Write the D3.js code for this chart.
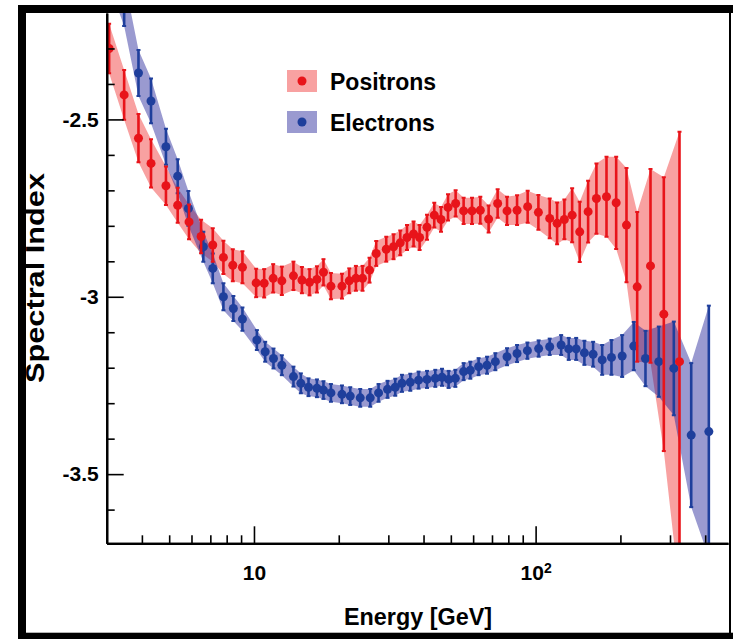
<!DOCTYPE html>
<html>
<head>
<meta charset="utf-8">
<script src="https://cdn.jsdelivr.net/npm/d3@7"></script>
<style>
body { margin: 0; background: #fff; }
svg { display: block; }
text { font-family: "Liberation Sans", Arial, Helvetica, sans-serif; fill: #000; font-weight: bold; }
</style>
</head>
<body>
<div id="chart"></div>
<script>
// energies in GeV, spectral index, half error
const pos_energy = [3.06, 3.46, 3.89, 4.31, 4.87, 5.36, 5.88, 6.49, 7.14, 7.79, 8.41, 9.10,
  10.18, 10.87, 11.70, 12.56, 13.81, 14.80, 15.75, 16.73, 17.65, 18.76, 20.53, 21.79,
  23.01, 24.29, 25.72, 27.17, 29.49, 31.30, 33.07, 34.94, 36.87, 38.73, 41.15, 43.67,
  46.14, 48.86, 52.00, 55.51, 59.45, 63.63, 68.10, 73.31, 79.16, 85.92, 93.7, 102.3,
  112.2, 119.2, 126.5, 134.8, 143.4, 153.6, 164.4, 178.5, 193.2, 210.2, 229.4, 255.8,
  285.2, 324.2];
const pos_index = [-2.300, -2.431, -2.553, -2.624, -2.687, -2.742, -2.789, -2.830, -2.854, -2.889, -2.911, -2.917,
  -2.961, -2.962, -2.948, -2.955, -2.941, -2.953, -2.959, -2.951, -2.931, -2.970, -2.970, -2.955,
  -2.948, -2.948, -2.925, -2.878, -2.866, -2.859, -2.848, -2.833, -2.823, -2.833, -2.804, -2.770,
  -2.782, -2.748, -2.737, -2.758, -2.758, -2.756, -2.781, -2.737, -2.758, -2.756, -2.746, -2.762,
  -2.779, -2.793, -2.782, -2.770, -2.817, -2.760, -2.723, -2.718, -2.735, -2.798, -2.972, -2.913,
  -3.049, -3.183];
const pos_err = [0.070, 0.070, 0.068, 0.068, 0.054, 0.049, 0.049, 0.047, 0.047, 0.047, 0.045, 0.045,
  0.040, 0.040, 0.040, 0.040, 0.040, 0.037, 0.037, 0.037, 0.037, 0.037, 0.035, 0.035,
  0.035, 0.035, 0.035, 0.035, 0.035, 0.035, 0.035, 0.035, 0.035, 0.035, 0.035, 0.035,
  0.035, 0.037, 0.037, 0.037, 0.037, 0.038, 0.038, 0.040, 0.040, 0.042, 0.045, 0.049,
  0.056, 0.059, 0.056, 0.076, 0.085, 0.087, 0.099, 0.113, 0.130, 0.161, 0.211, 0.273,
  0.386, 0.648];

const ele_energy = [3.06, 3.46, 3.89, 4.31, 4.87, 5.36, 5.85, 6.61, 7.14, 7.79, 8.45, 9.10,
  10.24, 10.96, 11.73, 12.56, 13.81, 14.67, 15.62, 16.73, 17.65, 18.76, 20.53, 21.97,
  23.84, 25.87, 27.69, 29.80, 31.74, 33.53, 35.89, 38.41, 41.15, 44.03, 46.52, 49.10,
  51.87, 55.51, 58.64, 62.75, 67.22, 71.95, 79.16, 85.92, 93.5, 102.5, 112.2, 123.2,
  131.1, 139.3, 149.0, 160.0, 172.3, 185.9, 202.9, 223.1, 245.5, 273.7, 309.5, 356.8,
  412.1];
const ele_index = [-2.05, -2.17, -2.369, -2.448, -2.577, -2.660, -2.751, -2.859, -2.920, -3.000, -3.033, -3.063,
  -3.122, -3.155, -3.174, -3.193, -3.225, -3.244, -3.255, -3.258, -3.263, -3.271, -3.275, -3.280,
  -3.285, -3.285, -3.271, -3.261, -3.255, -3.244, -3.241, -3.235, -3.233, -3.230, -3.227, -3.233,
  -3.230, -3.211, -3.207, -3.197, -3.193, -3.183, -3.169, -3.160, -3.152, -3.146, -3.141, -3.136,
  -3.147, -3.147, -3.158, -3.162, -3.178, -3.171, -3.167, -3.139, -3.174, -3.183, -3.202, -3.390,
  -3.380];
const ele_err = [0.070, 0.067, 0.065, 0.063, 0.051, 0.048, 0.049, 0.042, 0.042, 0.038, 0.035, 0.033,
  0.028, 0.028, 0.028, 0.028, 0.028, 0.028, 0.025, 0.025, 0.025, 0.025, 0.025, 0.025,
  0.025, 0.025, 0.025, 0.024, 0.024, 0.024, 0.024, 0.024, 0.024, 0.024, 0.024, 0.024,
  0.024, 0.024, 0.024, 0.024, 0.024, 0.024, 0.024, 0.024, 0.023, 0.023, 0.023, 0.028,
  0.031, 0.031, 0.034, 0.035, 0.042, 0.049, 0.059, 0.068, 0.078, 0.099, 0.132, 0.203,
  0.355];

const x_major = [10, 100];
const x_minor = [4, 5, 6, 7, 8, 9, 20, 30, 40, 50, 60, 70, 80, 90, 200, 300, 400];
const y_major = [-2.5, -3, -3.5];
const y_minor = [-2.3, -2.4, -2.6, -2.7, -2.8, -2.9, -3.1, -3.2, -3.3, -3.4, -3.6];
const series_names = ["Positrons", "Electrons"];

const width = 733, height = 639;
const plot = {left: 106.7, right: 728, top: 13, bottom: 543.3};

const svg = d3.select("#chart").append("svg")
  .attr("width", width)
  .attr("height", height);

// black frame around the picture
svg.append("rect").attr("x", 18).attr("y", 5).attr("width", width - 18).attr("height", height - 5).attr("fill", "#000");
svg.append("rect").attr("x", 26).attr("y", 13).attr("width", 703).attr("height", 619.7).attr("fill", "#fff");
svg.append("rect").attr("x", 731).attr("y", 13).attr("width", 2).attr("height", 619.7).attr("fill", "#fff");

const x_scale = d3.scaleLog().domain([3, 482]).range([plot.left, plot.right]);
const y_scale = d3.scaleLinear().domain([-3.695, -2.2]).range([plot.bottom, plot.top]);

svg.append("clipPath").attr("id", "clip")
  .append("rect")
  .attr("x", plot.left).attr("y", plot.top)
  .attr("width", plot.right - plot.left).attr("height", plot.bottom - plot.top);

const make_rows = (en, val, err) => en.map((e, i) => ({e: e, v: val[i], err: err[i]}));
const positrons = make_rows(pos_energy, pos_index, pos_err);
const electrons = make_rows(ele_energy, ele_index, ele_err);

const band = d3.area()
  .x((d) => x_scale(d.e))
  .y0((d) => y_scale(d.v - d.err))
  .y1((d) => y_scale(d.v + d.err));

const g = svg.append("g").attr("clip-path", "url(#clip)");

g.append("path").datum(positrons)
  .attr("d", band)
  .style("fill", "rgba(235,0,0,0.37)");
g.append("path").datum(electrons)
  .attr("d", band)
  .style("fill", "rgba(30,30,150,0.45)");

const draw_points = (rows, color) => {
  const p = g.append("g");
  p.selectAll("line.bar").data(rows).enter().append("line")
    .attr("class", "bar")
    .attr("x1", (d) => x_scale(d.e)).attr("x2", (d) => x_scale(d.e))
    .attr("y1", (d) => y_scale(d.v - d.err)).attr("y2", (d) => y_scale(d.v + d.err))
    .style("stroke", color).style("stroke-width", 2.6);
  p.selectAll("line.cap_top").data(rows).enter().append("line")
    .attr("x1", (d) => x_scale(d.e) - 2).attr("x2", (d) => x_scale(d.e) + 2)
    .attr("y1", (d) => y_scale(d.v + d.err)).attr("y2", (d) => y_scale(d.v + d.err))
    .style("stroke", color).style("stroke-width", 2);
  p.selectAll("line.cap_bot").data(rows).enter().append("line")
    .attr("x1", (d) => x_scale(d.e) - 2).attr("x2", (d) => x_scale(d.e) + 2)
    .attr("y1", (d) => y_scale(d.v - d.err)).attr("y2", (d) => y_scale(d.v - d.err))
    .style("stroke", color).style("stroke-width", 2);
  p.selectAll("circle").data(rows).enter().append("circle")
    .attr("cx", (d) => x_scale(d.e))
    .attr("cy", (d) => y_scale(d.v))
    .attr("r", 4.5)
    .style("fill", color);
};
draw_points(electrons, "#1f3f9c");
draw_points(positrons, "#e8141a");

// axes
const y_axis_major = d3.axisLeft(y_scale).tickValues(y_major).tickSizeInner(-17).tickSizeOuter(0).tickPadding(8);
const y_axis_minor = d3.axisLeft(y_scale).tickValues(y_minor).tickSizeInner(-8).tickSizeOuter(0).tickFormat("");
svg.append("g").attr("transform", "translate(" + plot.left + ",0)").call(y_axis_minor);
const gy = svg.append("g").attr("class", "axis y").attr("transform", "translate(" + plot.left + ",0)").call(y_axis_major);
gy.selectAll("text").style("font-size", "21px").text((d) => d3.format(".1~f")(d).replace("−", "-"));

const x_axis_minor = d3.axisBottom(x_scale).tickValues(x_minor).tickSizeInner(-8).tickSizeOuter(0).tickFormat("");
const x_axis_major = d3.axisBottom(x_scale).tickValues(x_major).tickSizeInner(-17).tickSizeOuter(0).tickPadding(22)
  .tickFormat((d) => d === 10 ? "10" : "");
svg.append("g").attr("transform", "translate(0," + plot.bottom + ")").call(x_axis_minor);
const gx = svg.append("g").attr("class", "axis x").attr("transform", "translate(0," + plot.bottom + ")").call(x_axis_major);
gx.selectAll("text").style("font-size", "21px");
gx.selectAll(".tick").filter((d) => d === 100).select("text")
  .call((t) => {
    t.append("tspan").text("10");
    t.append("tspan").attr("dy", "-0.5em").style("font-size", "14px").text("2");
  });

svg.selectAll(".domain").style("stroke-width", 2.2);
svg.selectAll(".tick line").style("stroke-width", 1.6);
svg.selectAll(".domain, .tick line").style("stroke", "#000");

// titles
svg.append("text")
  .attr("x", 418)
  .attr("y", 625)
  .attr("text-anchor", "middle")
  .style("font-size", "23px")
  .attr("textLength", 148)
  .attr("lengthAdjust", "spacingAndGlyphs")
  .text("Energy [GeV]");

svg.append("text")
  .attr("transform", "translate(44,278) rotate(-90)")
  .attr("text-anchor", "middle")
  .style("font-size", "25px")
  .attr("textLength", 210)
  .attr("lengthAdjust", "spacingAndGlyphs")
  .text("Spectral Index");

// legend
const legend_fill = ["rgba(235,0,0,0.37)", "rgba(30,30,150,0.45)"];
const legend_dot = ["#e8141a", "#1f3f9c"];
const lg = svg.append("g").attr("transform", "translate(287,70)");
series_names.forEach((name, i) => {
  const row = lg.append("g").attr("transform", "translate(0," + (i * 41) + ")");
  row.append("rect").attr("width", 30).attr("height", 22).style("fill", legend_fill[i]);
  row.append("circle").attr("cx", 15).attr("cy", 11).attr("r", 4.5).style("fill", legend_dot[i]);
  row.append("text").attr("x", 43).attr("y", 20).style("font-size", "23px").text(name);
});
</script>
</body>
</html>
